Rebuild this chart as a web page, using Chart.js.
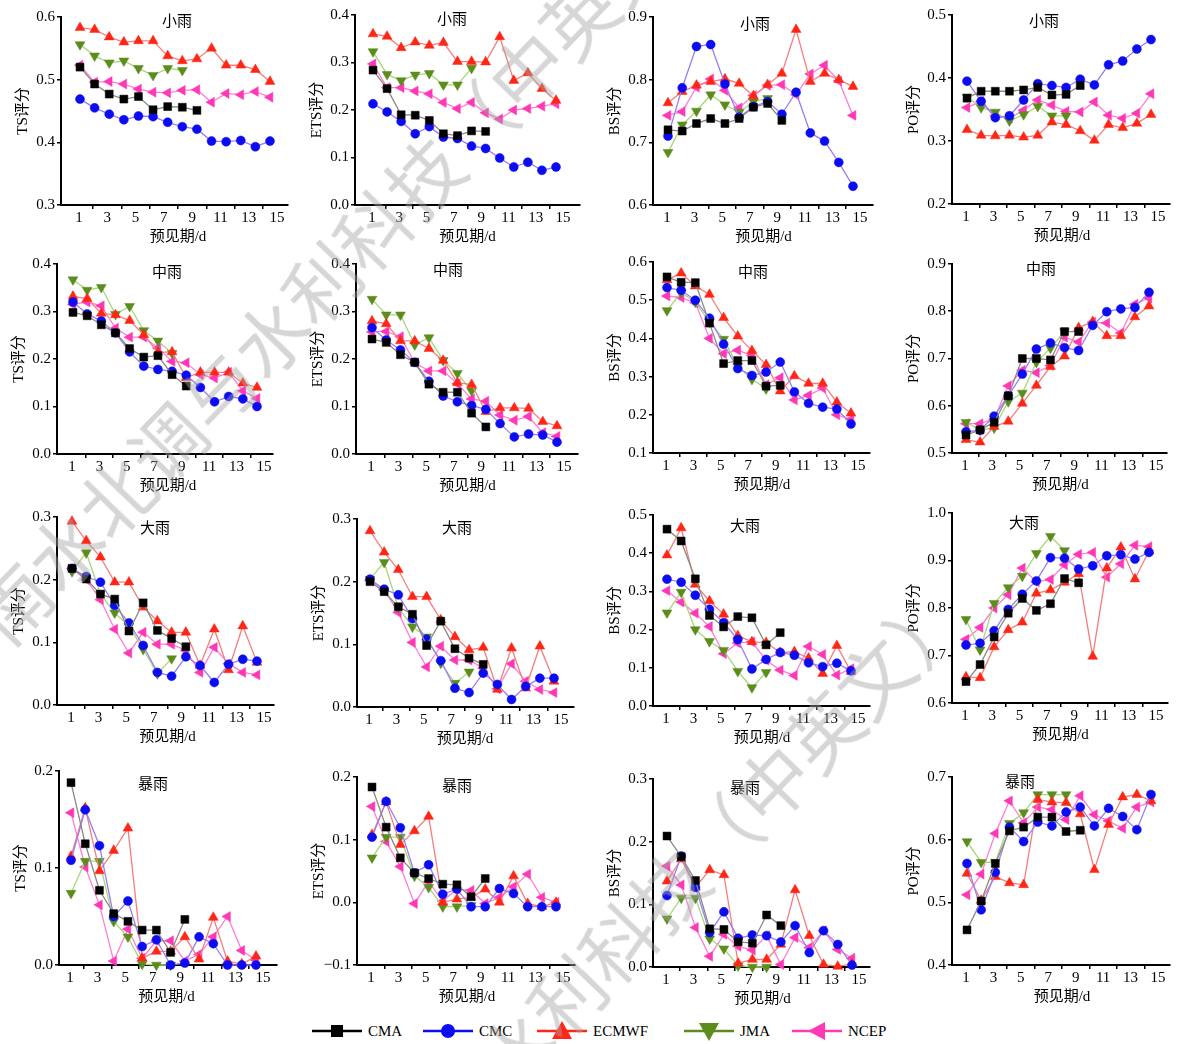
<!DOCTYPE html>
<html>
<head>
<meta charset="utf-8">
<script src="https://cdn.jsdelivr.net/npm/chart.js@4/dist/chart.umd.min.js"></script>
<style>
  body { margin: 0; background: #fff; }
  #page { position: relative; width: 1181px; height: 1044px; overflow: hidden;
          font-family: "Liberation Serif", "Noto Sans CJK SC", serif; }
  .key { position: absolute; top: 1018px; height: 26px; display: flex; align-items: center; font-size: 15px; color: #000; }
  .key svg { margin-right: 6px; }
  .wm { position: absolute; white-space: nowrap; font-family: "Noto Sans CJK SC", sans-serif;
        font-size: 74px; line-height: 1; color: rgba(165,165,165,0.45); pointer-events: none; }
</style>
</head>
<body>
<div id="page"></div>
<script>
// lead time (days) for every model; CMA and JMA stop early
const leadDays = [1, 2, 3, 4, 5, 6, 7, 8, 9, 10, 11, 12, 13, 14];
const models = ['CMA', 'CMC', 'ECMWF', 'JMA', 'NCEP'];

// ---- 小雨 ----
const tsLight = {
  CMA:   [0.520, 0.493, 0.477, 0.469, 0.473, 0.452, 0.457, 0.456, 0.451],
  CMC:   [0.469, 0.455, 0.445, 0.436, 0.442, 0.441, 0.432, 0.425, 0.421, 0.402, 0.401, 0.403, 0.393, 0.402],
  ECMWF: [0.583, 0.580, 0.568, 0.560, 0.562, 0.562, 0.538, 0.530, 0.533, 0.550, 0.523, 0.523, 0.516, 0.497],
  JMA:   [0.556, 0.538, 0.527, 0.530, 0.518, 0.507, 0.518, 0.515],
  NCEP:  [0.523, 0.496, 0.497, 0.493, 0.485, 0.480, 0.479, 0.483, 0.484, 0.464, 0.478, 0.476, 0.481, 0.472]
};
const etsLight = {
  CMA:   [0.284, 0.245, 0.190, 0.189, 0.178, 0.150, 0.146, 0.156, 0.155],
  CMC:   [0.213, 0.196, 0.176, 0.150, 0.165, 0.143, 0.140, 0.124, 0.119, 0.099, 0.080, 0.090, 0.073, 0.080],
  ECMWF: [0.360, 0.355, 0.331, 0.343, 0.336, 0.342, 0.302, 0.302, 0.301, 0.354, 0.262, 0.278, 0.245, 0.220],
  JMA:   [0.323, 0.275, 0.262, 0.274, 0.277, 0.253, 0.253, 0.288],
  NCEP:  [0.297, 0.247, 0.247, 0.240, 0.234, 0.216, 0.203, 0.216, 0.194, 0.181, 0.200, 0.203, 0.208, 0.213]
};
const bsLight = {
  CMA:   [0.720, 0.718, 0.730, 0.738, 0.730, 0.738, 0.756, 0.762, 0.735],
  CMC:   [0.710, 0.787, 0.853, 0.856, 0.793, 0.740, 0.757, 0.765, 0.745, 0.780, 0.715, 0.702, 0.668, 0.630],
  ECMWF: [0.763, 0.781, 0.791, 0.797, 0.801, 0.794, 0.774, 0.792, 0.810, 0.880, 0.797, 0.810, 0.800, 0.789],
  JMA:   [0.684, 0.728, 0.750, 0.776, 0.760, 0.748, 0.765, 0.770],
  NCEP:  [0.743, 0.749, 0.788, 0.801, 0.783, 0.755, 0.775, 0.791, 0.792, 0.776, 0.809, 0.823, 0.798, 0.743]
};
const poLight = {
  CMA:   [0.368, 0.379, 0.379, 0.379, 0.381, 0.385, 0.373, 0.374, 0.388],
  CMC:   [0.395, 0.363, 0.337, 0.340, 0.365, 0.391, 0.388, 0.385, 0.398, 0.389, 0.421, 0.427, 0.446, 0.461],
  ECMWF: [0.318, 0.309, 0.308, 0.309, 0.306, 0.309, 0.330, 0.326, 0.316, 0.301, 0.326, 0.321, 0.328, 0.342],
  JMA:   [0.370, 0.353, 0.346, 0.332, 0.342, 0.355, 0.340, 0.340],
  NCEP:  [0.353, 0.363, 0.340, 0.336, 0.349, 0.365, 0.357, 0.347, 0.346, 0.362, 0.341, 0.336, 0.344, 0.375]
};

// ---- 中雨 ----
const tsModerate = {
  CMA:   [0.298, 0.291, 0.272, 0.255, 0.222, 0.204, 0.207, 0.167, 0.143],
  CMC:   [0.320, 0.295, 0.280, 0.255, 0.215, 0.185, 0.178, 0.174, 0.166, 0.140, 0.110, 0.121, 0.116, 0.100],
  ECMWF: [0.332, 0.327, 0.296, 0.293, 0.281, 0.251, 0.214, 0.215, 0.161, 0.172, 0.172, 0.172, 0.149, 0.140],
  JMA:   [0.367, 0.345, 0.351, 0.294, 0.311, 0.260, 0.238, 0.212],
  NCEP:  [0.315, 0.320, 0.312, 0.265, 0.246, 0.246, 0.223, 0.195, 0.192, 0.167, 0.160, 0.172, 0.133, 0.117]
};
const etsModerate = {
  CMA:   [0.242, 0.235, 0.209, 0.193, 0.147, 0.130, 0.130, 0.086, 0.057],
  CMC:   [0.266, 0.240, 0.219, 0.193, 0.153, 0.122, 0.110, 0.102, 0.094, 0.064, 0.036, 0.042, 0.040, 0.025],
  ECMWF: [0.280, 0.274, 0.238, 0.238, 0.222, 0.197, 0.150, 0.146, 0.089, 0.097, 0.097, 0.096, 0.068, 0.059],
  JMA:   [0.326, 0.293, 0.293, 0.230, 0.245, 0.197, 0.170, 0.133],
  NCEP:  [0.257, 0.258, 0.247, 0.192, 0.175, 0.175, 0.148, 0.116, 0.111, 0.082, 0.071, 0.079, 0.045, 0.037]
};
const bsModerate = {
  CMA:   [0.561, 0.547, 0.546, 0.440, 0.334, 0.342, 0.342, 0.275, 0.277],
  CMC:   [0.533, 0.526, 0.500, 0.453, 0.385, 0.321, 0.303, 0.312, 0.338, 0.260, 0.230, 0.220, 0.215, 0.176],
  ECMWF: [0.553, 0.571, 0.537, 0.515, 0.454, 0.406, 0.368, 0.331, 0.262, 0.302, 0.282, 0.282, 0.233, 0.204],
  JMA:   [0.473, 0.520, 0.495, 0.443, 0.398, 0.327, 0.293, 0.268],
  NCEP:  [0.511, 0.507, 0.493, 0.400, 0.360, 0.369, 0.355, 0.279, 0.297, 0.239, 0.251, 0.270, 0.200, 0.188]
};
const poModerate = {
  CMA:   [0.538, 0.549, 0.565, 0.621, 0.700, 0.700, 0.697, 0.757, 0.757],
  CMC:   [0.545, 0.548, 0.578, 0.621, 0.667, 0.720, 0.733, 0.723, 0.717, 0.770, 0.799, 0.805, 0.808, 0.840],
  ECMWF: [0.528, 0.523, 0.556, 0.567, 0.605, 0.643, 0.683, 0.705, 0.765, 0.778, 0.748, 0.748, 0.788, 0.811],
  JMA:   [0.565, 0.549, 0.553, 0.609, 0.627, 0.692, 0.722, 0.757],
  NCEP:  [0.562, 0.562, 0.572, 0.642, 0.675, 0.670, 0.685, 0.745, 0.735, 0.777, 0.775, 0.754, 0.815, 0.828]
};

// ---- 大雨 ----
const tsHeavy = {
  CMA:   [0.218, 0.201, 0.177, 0.169, 0.118, 0.163, 0.119, 0.106, 0.093],
  CMC:   [0.218, 0.205, 0.196, 0.159, 0.131, 0.095, 0.052, 0.046, 0.077, 0.063, 0.036, 0.065, 0.073, 0.070],
  ECMWF: [0.293, 0.262, 0.236, 0.196, 0.196, 0.156, 0.134, 0.116, 0.116, 0.063, 0.121, 0.056, 0.126, 0.068],
  JMA:   [0.213, 0.243, 0.177, 0.147, 0.126, 0.089, 0.050, 0.074],
  NCEP:  [0.218, 0.200, 0.168, 0.121, 0.083, 0.116, 0.097, 0.097, 0.087, 0.052, 0.092, 0.066, 0.052, 0.048]
};
const etsHeavy = {
  CMA:   [0.200, 0.184, 0.160, 0.148, 0.098, 0.137, 0.093, 0.078, 0.068],
  CMC:   [0.204, 0.188, 0.179, 0.141, 0.108, 0.074, 0.030, 0.023, 0.054, 0.036, 0.012, 0.033, 0.046, 0.046],
  ECMWF: [0.281, 0.247, 0.219, 0.176, 0.176, 0.139, 0.112, 0.091, 0.095, 0.028, 0.094, 0.030, 0.097, 0.041],
  JMA:   [0.204, 0.231, 0.159, 0.128, 0.112, 0.070, 0.038, 0.056],
  NCEP:  [0.202, 0.187, 0.151, 0.103, 0.064, 0.097, 0.075, 0.075, 0.062, 0.029, 0.069, 0.041, 0.028, 0.023]
};
const bsHeavy = {
  CMA:   [0.463, 0.432, 0.333, 0.237, 0.207, 0.234, 0.231, 0.160, 0.192],
  CMC:   [0.332, 0.324, 0.290, 0.253, 0.218, 0.174, 0.097, 0.122, 0.140, 0.133, 0.113, 0.103, 0.112, 0.092],
  ECMWF: [0.395, 0.466, 0.318, 0.275, 0.240, 0.184, 0.168, 0.166, 0.140, 0.142, 0.125, 0.085, 0.158, 0.090],
  JMA:   [0.244, 0.298, 0.200, 0.169, 0.146, 0.091, 0.048, 0.088],
  NCEP:  [0.302, 0.272, 0.243, 0.208, 0.137, 0.165, 0.168, 0.120, 0.094, 0.080, 0.156, 0.135, 0.081, 0.098]
};
const poHeavy = {
  CMA:   [0.645, 0.681, 0.739, 0.789, 0.820, 0.795, 0.809, 0.862, 0.853],
  CMC:   [0.722, 0.726, 0.752, 0.797, 0.829, 0.857, 0.906, 0.905, 0.882, 0.889, 0.910, 0.912, 0.903, 0.917],
  ECMWF: [0.655, 0.653, 0.718, 0.754, 0.770, 0.831, 0.838, 0.854, 0.872, 0.698, 0.884, 0.928, 0.861, 0.920],
  JMA:   [0.776, 0.712, 0.810, 0.843, 0.867, 0.915, 0.951, 0.921],
  NCEP:  [0.734, 0.759, 0.800, 0.828, 0.884, 0.855, 0.860, 0.891, 0.913, 0.917, 0.865, 0.893, 0.932, 0.929]
};

// ---- 暴雨 ----
const tsStorm = {
  CMA:   [0.188, 0.125, 0.077, 0.053, 0.045, 0.036, 0.036, 0.013, 0.047],
  CMC:   [0.108, 0.160, 0.123, 0.050, 0.066, 0.019, 0.026, 0.000, 0.002, 0.029, 0.022, 0.000, 0.000, 0.000],
  ECMWF: [0.112, 0.162, 0.097, 0.118, 0.141, 0.007, 0.014, 0.014, 0.029, 0.006, 0.049, 0.004, 0.001, 0.009],
  JMA:   [0.074, 0.107, 0.107, 0.045, 0.029, 0.001, 0.000, 0.000],
  NCEP:  [0.157, 0.101, 0.062, 0.004, 0.037, 0.007, 0.025, 0.025, 0.004, 0.011, 0.029, 0.050, 0.015, 0.005]
};
const etsStorm = {
  CMA:   [0.184, 0.120, 0.071, 0.047, 0.038, 0.029, 0.028, 0.009, 0.038],
  CMC:   [0.104, 0.161, 0.119, 0.047, 0.060, 0.013, 0.021, -0.007, -0.007, 0.022, 0.014, -0.007, -0.007, -0.007],
  ECMWF: [0.108, 0.160, 0.092, 0.114, 0.137, 0.000, 0.005, 0.008, 0.021, 0.000, 0.042, -0.002, -0.007, 0.000],
  JMA:   [0.071, 0.104, 0.104, 0.042, 0.024, -0.007, -0.007, -0.005],
  NCEP:  [0.153, 0.097, 0.057, -0.002, 0.033, 0.002, 0.021, 0.019, -0.002, 0.008, 0.025, 0.045, 0.008, 0.000]
};
const bsStorm = {
  CMA:   [0.209, 0.176, 0.138, 0.061, 0.060, 0.040, 0.038, 0.083, 0.066],
  CMC:   [0.114, 0.177, 0.127, 0.055, 0.088, 0.046, 0.051, 0.050, 0.040, 0.066, 0.023, 0.058, 0.036, 0.003],
  ECMWF: [0.137, 0.172, 0.127, 0.155, 0.147, 0.006, 0.012, 0.012, 0.036, 0.123, 0.050, 0.004, 0.001, 0.005],
  JMA:   [0.077, 0.110, 0.110, 0.045, 0.029, 0.002, 0.000, 0.000],
  NCEP:  [0.161, 0.131, 0.063, 0.017, 0.052, 0.033, 0.027, 0.050, 0.004, 0.047, 0.031, 0.058, 0.028, 0.014]
};
const poStorm = {
  CMA:   [0.456, 0.502, 0.562, 0.614, 0.620, 0.636, 0.636, 0.613, 0.615],
  CMC:   [0.562, 0.488, 0.548, 0.620, 0.597, 0.628, 0.622, 0.644, 0.652, 0.622, 0.650, 0.637, 0.616, 0.672],
  ECMWF: [0.546, 0.503, 0.541, 0.531, 0.528, 0.664, 0.660, 0.659, 0.641, 0.552, 0.624, 0.668, 0.672, 0.662],
  JMA:   [0.597, 0.564, 0.564, 0.626, 0.643, 0.672, 0.672, 0.672],
  NCEP:  [0.512, 0.545, 0.610, 0.662, 0.627, 0.652, 0.648, 0.632, 0.670, 0.640, 0.630, 0.618, 0.652, 0.660]
};

// panels, row by row
const panels = [
  { data: tsLight,     yMin: 0.3, yMax: 0.6, yTitle: 'TS评分',  head: '小雨' },
  { data: etsLight,    yMin: 0.0, yMax: 0.4, yTitle: 'ETS评分', head: '小雨' },
  { data: bsLight,     yMin: 0.6, yMax: 0.9, yTitle: 'BS评分',  head: '小雨' },
  { data: poLight,     yMin: 0.2, yMax: 0.5, yTitle: 'PO评分',  head: '小雨' },
  { data: tsModerate,  yMin: 0.0, yMax: 0.4, yTitle: 'TS评分',  head: '中雨' },
  { data: etsModerate, yMin: 0.0, yMax: 0.4, yTitle: 'ETS评分', head: '中雨' },
  { data: bsModerate,  yMin: 0.1, yMax: 0.6, yTitle: 'BS评分',  head: '中雨' },
  { data: poModerate,  yMin: 0.5, yMax: 0.9, yTitle: 'PO评分',  head: '中雨' },
  { data: tsHeavy,     yMin: 0.0, yMax: 0.3, yTitle: 'TS评分',  head: '大雨' },
  { data: etsHeavy,    yMin: 0.0, yMax: 0.3, yTitle: 'ETS评分', head: '大雨' },
  { data: bsHeavy,     yMin: 0.0, yMax: 0.5, yTitle: 'BS评分',  head: '大雨' },
  { data: poHeavy,     yMin: 0.6, yMax: 1.0, yTitle: 'PO评分',  head: '大雨' },
  { data: tsStorm,     yMin: 0.0, yMax: 0.2, yTitle: 'TS评分',  head: '暴雨' },
  { data: etsStorm,    yMin: -0.1, yMax: 0.2, yTitle: 'ETS评分', head: '暴雨' },
  { data: bsStorm,     yMin: 0.0, yMax: 0.3, yTitle: 'BS评分',  head: '暴雨' },
  { data: poStorm,     yMin: 0.4, yMax: 0.7, yTitle: 'PO评分',  head: '暴雨' }
];

// page layout: axis left, axis right, top tick, bottom tick, label "1", label "15"
const panelBox = [
  [61, 288, 17, 205, 79, 277], [355, 580, 15, 205, 372, 563], [653, 873, 17, 205, 667, 860], [952, 1170, 15, 204, 966, 1158],
  [57, 273, 264, 454, 72, 264], [356, 578, 264, 454, 371, 564], [653, 870, 262, 453, 666, 858], [952, 1167, 264, 453, 965, 1156],
  [57, 274, 517, 705, 71, 264], [357, 574, 519, 707, 369, 561], [653, 870, 515, 706, 666, 858], [952, 1168, 513, 703, 965, 1156],
  [59, 277, 771, 965, 70, 263], [357, 575, 777, 965, 371, 563], [653, 870, 779, 967, 666, 859], [952, 1170, 777, 965, 966, 1158]
];
// heading position inside each panel
const headPos = [
  [177, 22], [452, 20], [755, 25], [1044, 22],
  [167, 273], [448, 271], [753, 273], [1041, 270],
  [155, 529], [457, 529], [745, 527], [1024, 524],
  [153, 785], [457, 787], [745, 789], [1020, 783]
];

const markerColor = { CMA: '#000000', CMC: '#0c0cf2', ECMWF: '#ff2616', JMA: '#5b8c1c', NCEP: '#ff38b6' };
const lineColor   = { CMA: '#8a8a82', CMC: '#9c7ef0', ECMWF: '#f47e7e', JMA: '#a9d67a', NCEP: '#ff7ed4' };
const marker = {
  CMA:   { style: 'rect',     rot: 0,   r: 5.6 },
  CMC:   { style: 'circle',   rot: 0,   r: 4.5 },
  ECMWF: { style: 'triangle', rot: 0,   r: 5.7 },
  JMA:   { style: 'triangle', rot: 180, r: 5.7 },
  NCEP:  { style: 'triangle', rot: 270, r: 5.7 }
};

const FONT_FAMILY = '"Liberation Serif", "Noto Sans CJK SC", serif';
const PAD_L = 60, PAD_T = 12, PAD_R = 14, PAD_B = 48;

function fmt(v) {
  const s = Math.abs(v).toFixed(1);
  return v < -1e-9 ? '\u2212' + s : s;
}

// headings, axis titles
const panelText = {
  id: 'panelText',
  afterDraw(chart, args, o) {
    const { ctx, chartArea: a } = chart;
    ctx.save();
    ctx.fillStyle = '#000';
    ctx.font = '15px ' + FONT_FAMILY;
    ctx.textAlign = 'center';
    ctx.textBaseline = 'middle';
    ctx.fillText(o.head, a.left + (o.hx - o.L), a.top + (o.hy - o.top));
    ctx.fillText('预见期/d', a.left + (o.xc - o.L), a.bottom + 32);
    ctx.translate(a.left - 38, (a.top + a.bottom) / 2);
    ctx.rotate(-Math.PI / 2);
    ctx.fillText(o.yTitle, 0, 0);
    ctx.restore();
  }
};

function buildPanel(p, i) {
  const [L, R, top, bot, lab1, lab15] = panelBox[i];
  const w = PAD_L + (R - L) + PAD_R, h = PAD_T + (bot - top) + PAD_B;
  const cv = document.createElement('canvas');
  cv.width = w; cv.height = h;
  cv.style.cssText = `position:absolute;left:${L - PAD_L}px;top:${top - PAD_T}px;width:${w}px;height:${h}px`;
  document.getElementById('page').appendChild(cv);

  // label axis (1..15) and data axis (lead days 1..14) share the plot width
  const u = (lab15 - lab1) / 14;
  const d1 = lab1 + 1, d14 = lab15 - 7, v = (d14 - d1) / 13;

  const datasets = models.map(m => ({
    label: m,
    data: p.data[m].map((y, k) => ({ x: leadDays[k], y })),
    borderColor: lineColor[m],
    borderWidth: 1.3,
    pointStyle: marker[m].style,
    rotation: marker[m].rot,
    pointRadius: marker[m].r,
    pointBackgroundColor: markerColor[m],
    pointBorderColor: markerColor[m],
    pointBorderWidth: 0.5,
    tension: 0,
    clip: 12,
    xAxisID: 'x',
    yAxisID: 'y'
  }));

  new Chart(cv, {
    type: 'line',
    data: { datasets },
    plugins: [panelText],
    options: {
      responsive: false,
      animation: false,
      devicePixelRatio: 1,
      layout: { padding: { left: 0, top: PAD_T, right: PAD_R, bottom: 0 } },
      plugins: {
        legend: { display: false },
        tooltip: { enabled: false },
        panelText: { head: p.head, yTitle: p.yTitle, L, top, hx: headPos[i][0], hy: headPos[i][1], xc: (lab1 + lab15) / 2 }
      },
      scales: {
        x: {
          type: 'linear', display: false,
          min: 1 - (d1 - L) / v, max: 14 + (R - d14) / v
        },
        xt: {
          type: 'linear', position: 'bottom',
          min: 1 - (lab1 - L) / u, max: 15 + (R - lab15) / u,
          afterFit: s => { s.height = PAD_B; },
          border: { display: true, color: '#000', width: 2 },
          grid: {
            drawOnChartArea: false, drawTicks: true, tickLength: 4, lineWidth: 1.5,
            tickColor: c => (c.tick && c.tick.value % 2 === 0 && c.tick.value >= 2 && c.tick.value <= 14) ? '#000' : 'rgba(0,0,0,0)'
          },
          ticks: {
            stepSize: 1, autoSkip: false, includeBounds: false, maxRotation: 0, padding: 0,
            color: '#000', font: { family: FONT_FAMILY, size: 15 },
            callback: val => (Number.isInteger(val) && val % 2 === 1 && val >= 1 && val <= 15) ? String(val) : ''
          }
        },
        y: {
          type: 'linear', position: 'left',
          min: p.yMin, max: p.yMax,
          afterFit: s => { s.width = PAD_L; },
          border: { display: true, color: '#000', width: 2 },
          grid: { drawOnChartArea: false, drawTicks: true, tickLength: 4, lineWidth: 1.5, tickColor: '#000' },
          ticks: {
            stepSize: 0.1, padding: 2, color: '#000',
            font: { family: FONT_FAMILY, size: 15 },
            callback: val => fmt(val)
          }
        }
      }
    }
  });
}

// legend along the bottom
const keyPos = { CMA: 312, CMC: 423, ECMWF: 537, JMA: 684, NCEP: 792 };
const keyShape = {
  CMA:   '<rect x="19" y="7" width="12" height="12"/>',
  CMC:   '<circle cx="25" cy="13" r="7"/>',
  ECMWF: '<polygon points="25,3 35,21 15,21"/>',
  JMA:   '<polygon points="15,5 35,5 25,23"/>',
  NCEP:  '<polygon points="16,13 33,4 33,22"/>'
};
function buildLegend() {
  const page = document.getElementById('page');
  models.forEach(m => {
    const d = document.createElement('div');
    d.className = 'key';
    d.style.left = keyPos[m] + 'px';
    d.innerHTML = `<svg width="50" height="26" viewBox="0 0 50 26">
      <line x1="0" y1="13" x2="50" y2="13" stroke="${markerColor[m]}" stroke-width="2.5"/>
      <g fill="${markerColor[m]}">${keyShape[m]}</g></svg><span>${m}</span>`;
    page.appendChild(d);
  });
}

// journal watermark, two diagonal copies
function buildWatermark() {
  const page = document.getElementById('page');
  [[345, 255], [590, 968]].forEach(([cx, cy]) => {
    const d = document.createElement('div');
    d.className = 'wm';
    d.textContent = '南水北调与水利科技（中英文）';
    d.style.left = cx + 'px';
    d.style.top = cy + 'px';
    d.style.transform = 'translate(-50%, -50%) rotate(-46deg)';
    page.appendChild(d);
  });
}

Promise.all([
  document.fonts.load('15px "Liberation Serif"'),
  document.fonts.load('15px "Noto Sans CJK SC"', '预见期评分小雨'),
  document.fonts.load('74px "Noto Sans CJK SC"', '南水北调')
]).catch(() => {}).then(() => {
  panels.forEach(buildPanel);
  buildLegend();
  buildWatermark();
});
</script>
</body>
</html>
